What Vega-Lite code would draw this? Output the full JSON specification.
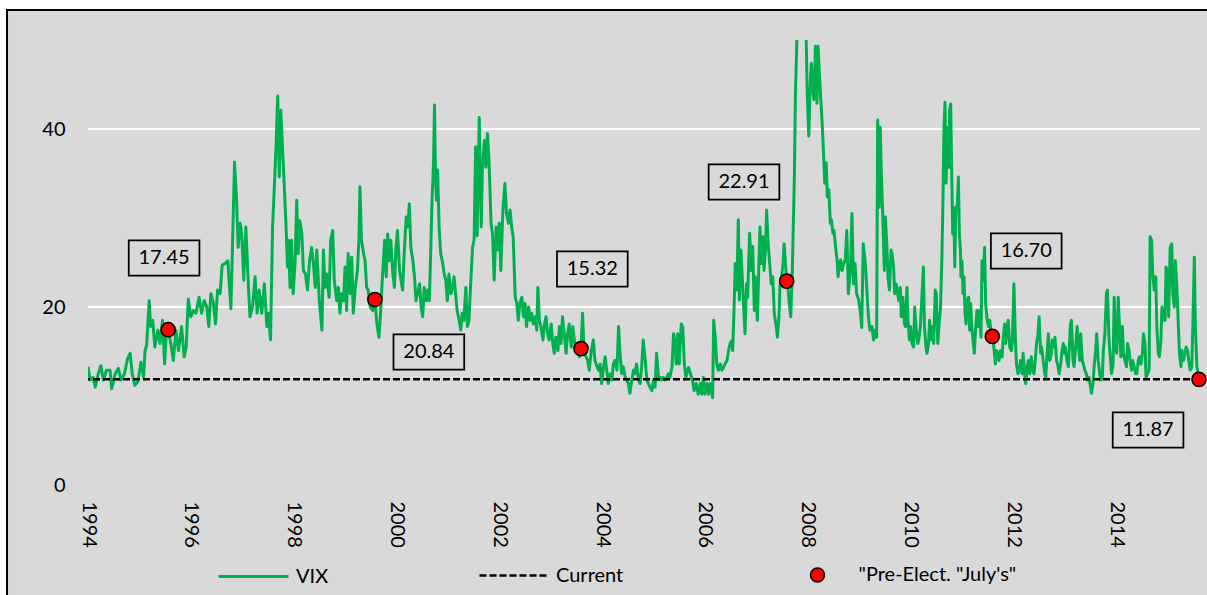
{
"$schema": "https://vega.github.io/schema/vega-lite/v6.json",
"width": 1112, "height": 445,
"autosize": {"type": "none"},
"padding": {"left": 88, "top": 40, "right": 7, "bottom": 110},
"background": "#d9d9d9",
"config": {"font": "Lato", "view": {"stroke": null},
 "legend": {"labelFont": "Lato", "labelFontSize": 20, "labelColor": "black", "title": null, "padding": 0}},
"datasets": {
"vix": [
{"t":1994.00,"v":13.3},{"t":1994.04,"v":11.8},{"t":1994.10,"v":12.1},{"t":1994.14,"v":11.0},{"t":1994.20,"v":12.5},{"t":1994.25,"v":13.4},{"t":1994.30,"v":11.8},{"t":1994.36,"v":12.9},{"t":1994.43,"v":12.9},{"t":1994.46,"v":10.8},{"t":1994.53,"v":12.5},{"t":1994.59,"v":13.1},{"t":1994.64,"v":11.8},{"t":1994.71,"v":12.5},{"t":1994.77,"v":14.2},{"t":1994.82,"v":14.8},{"t":1994.86,"v":12.5},{"t":1994.91,"v":11.2},{"t":1994.97,"v":11.6},{"t":1995.03,"v":13.8},{"t":1995.08,"v":12.1},{"t":1995.11,"v":15.1},{"t":1995.14,"v":15.7},{"t":1995.19,"v":20.7},{"t":1995.22,"v":17.8},{"t":1995.26,"v":18.5},{"t":1995.30,"v":15.5},{"t":1995.36,"v":17.4},{"t":1995.40,"v":15.9},{"t":1995.45,"v":18.5},{"t":1995.49,"v":13.6},{"t":1995.53,"v":17.8},{"t":1995.56,"v":17.45},{"t":1995.61,"v":15.9},{"t":1995.66,"v":14.0},{"t":1995.71,"v":17.4},{"t":1995.76,"v":15.1},{"t":1995.82,"v":17.8},{"t":1995.87,"v":14.4},{"t":1995.91,"v":15.5},{"t":1995.95,"v":20.9},{"t":1996.00,"v":18.9},{"t":1996.05,"v":19.6},{"t":1996.10,"v":19.3},{"t":1996.16,"v":21.1},{"t":1996.21,"v":19.3},{"t":1996.26,"v":20.7},{"t":1996.31,"v":20.0},{"t":1996.35,"v":17.8},{"t":1996.39,"v":21.5},{"t":1996.44,"v":20.4},{"t":1996.48,"v":18.1},{"t":1996.52,"v":21.9},{"t":1996.57,"v":21.5},{"t":1996.61,"v":24.7},{"t":1996.67,"v":24.9},{"t":1996.72,"v":25.2},{"t":1996.78,"v":19.8},{"t":1996.81,"v":26.7},{"t":1996.85,"v":36.3},{"t":1996.89,"v":32.0},{"t":1996.92,"v":26.7},{"t":1996.96,"v":29.4},{"t":1996.99,"v":28.2},{"t":1997.03,"v":23.0},{"t":1997.07,"v":29.0},{"t":1997.11,"v":23.7},{"t":1997.15,"v":18.9},{"t":1997.20,"v":20.0},{"t":1997.25,"v":23.4},{"t":1997.29,"v":19.3},{"t":1997.33,"v":21.9},{"t":1997.38,"v":19.3},{"t":1997.43,"v":22.6},{"t":1997.48,"v":17.8},{"t":1997.51,"v":19.3},{"t":1997.55,"v":16.3},{"t":1997.59,"v":29.0},{"t":1997.63,"v":34.2},{"t":1997.66,"v":38.4},{"t":1997.69,"v":43.7},{"t":1997.72,"v":34.6},{"t":1997.75,"v":42.1},
{"t":1997.81,"v":34.6},{"t":1997.85,"v":29.4},{"t":1997.88,"v":24.5},{"t":1997.90,"v":27.5},{"t":1997.93,"v":22.2},{"t":1997.96,"v":27.5},{"t":1997.99,"v":21.5},{"t":1998.03,"v":25.2},{"t":1998.06,"v":32.0},{"t":1998.09,"v":26.0},{"t":1998.12,"v":29.7},{"t":1998.16,"v":28.2},{"t":1998.19,"v":24.1},{"t":1998.23,"v":23.7},{"t":1998.27,"v":21.9},{"t":1998.31,"v":25.2},{"t":1998.35,"v":26.7},{"t":1998.38,"v":25.2},{"t":1998.42,"v":22.2},{"t":1998.45,"v":26.4},{"t":1998.50,"v":20.7},{"t":1998.55,"v":17.4},{"t":1998.58,"v":26.4},{"t":1998.61,"v":22.2},{"t":1998.64,"v":23.7},{"t":1998.69,"v":21.1},{"t":1998.72,"v":27.5},{"t":1998.76,"v":28.6},{"t":1998.79,"v":23.0},{"t":1998.84,"v":20.7},{"t":1998.87,"v":22.2},{"t":1998.90,"v":19.3},{"t":1998.93,"v":21.5},{"t":1998.97,"v":20.7},{"t":1999.00,"v":24.5},{"t":1999.03,"v":19.6},{"t":1999.06,"v":26.0},{"t":1999.10,"v":21.5},{"t":1999.13,"v":25.6},{"t":1999.16,"v":19.3},{"t":1999.20,"v":22.2},{"t":1999.24,"v":24.1},{"t":1999.27,"v":27.5},{"t":1999.29,"v":33.5},{"t":1999.32,"v":27.5},{"t":1999.36,"v":26.0},{"t":1999.39,"v":25.2},{"t":1999.42,"v":22.2},{"t":1999.45,"v":21.9},{"t":1999.49,"v":20.0},{"t":1999.54,"v":19.6},{"t":1999.58,"v":20.84},{"t":1999.62,"v":18.1},{"t":1999.66,"v":16.6},{"t":1999.69,"v":19.3},{"t":1999.73,"v":23.7},{"t":1999.77,"v":27.5},{"t":1999.80,"v":23.4},{"t":1999.83,"v":28.2},{"t":1999.86,"v":25.2},{"t":1999.89,"v":27.5},{"t":1999.93,"v":23.7},{"t":1999.96,"v":22.2},{"t":1999.99,"v":26.7},{"t":2000.02,"v":28.6},{"t":2000.06,"v":24.1},{"t":2000.09,"v":23.0},{"t":2000.12,"v":21.9},{"t":2000.15,"v":26.0},{"t":2000.19,"v":30.1},{"t":2000.22,"v":29.0},{"t":2000.25,"v":31.6},{"t":2000.28,"v":26.7},{"t":2000.32,"v":25.2},{"t":2000.35,"v":23.4},{"t":2000.38,"v":20.7},{"t":2000.41,"v":21.5},{"t":2000.45,"v":22.6},{"t":2000.48,"v":20.0},{"t":2000.51,"v":18.9},{"t":2000.54,"v":22.2},{"t":2000.58,"v":20.7},{"t":2000.61,"v":21.9},{"t":2000.64,"v":20.7},{"t":2000.67,"v":27.1},{"t":2000.69,"v":31.6},{"t":2000.72,"v":36.1},{"t":2000.74,"v":42.7},{"t":2000.76,"v":34.6},{"t":2000.78,"v":32.0},{"t":2000.80,"v":35.4},{"t":2000.83,"v":29.0},{"t":2000.86,"v":26.0},{"t":2000.89,"v":25.2},{"t":2000.93,"v":23.7},{"t":2000.96,"v":23.0},{"t":2000.99,"v":20.7},{"t":2001.02,"v":23.7},{"t":2001.06,"v":21.5},{"t":2001.09,"v":22.2},{"t":2001.12,"v":23.4},{"t":2001.15,"v":21.5},{"t":2001.18,"v":19.6},{"t":2001.22,"v":18.5},{"t":2001.25,"v":17.4},{"t":2001.28,"v":19.3},{"t":2001.31,"v":18.5},{"t":2001.35,"v":22.2},{"t":2001.38,"v":17.8},{"t":2001.41,"v":18.5},{"t":2001.44,"v":22.2},{"t":2001.48,"v":26.7},{"t":2001.51,"v":27.5},{"t":2001.54,"v":38.0},{"t":2001.57,"v":28.0},{"t":2001.61,"v":41.3},
{"t":2001.65,"v":29.0},{"t":2001.67,"v":35.4},{"t":2001.71,"v":38.7},{"t":2001.74,"v":35.7},{"t":2001.77,"v":39.5},{"t":2001.80,"v":36.5},{"t":2001.84,"v":29.4},{"t":2001.87,"v":28.2},{"t":2001.90,"v":23.0},{"t":2001.94,"v":29.0},{"t":2001.97,"v":26.4},{"t":2002.00,"v":29.4},{"t":2002.03,"v":24.1},{"t":2002.07,"v":30.9},{"t":2002.11,"v":33.9},{"t":2002.14,"v":30.5},{"t":2002.18,"v":29.4},{"t":2002.21,"v":30.9},{"t":2002.24,"v":29.0},{"t":2002.27,"v":27.9},{"t":2002.31,"v":21.1},{"t":2002.34,"v":20.4},{"t":2002.37,"v":18.5},{"t":2002.40,"v":20.4},{"t":2002.44,"v":21.1},{"t":2002.47,"v":18.9},{"t":2002.50,"v":20.4},{"t":2002.53,"v":17.8},{"t":2002.57,"v":20.0},{"t":2002.60,"v":18.5},{"t":2002.63,"v":19.3},{"t":2002.66,"v":18.1},{"t":2002.70,"v":18.9},{"t":2002.73,"v":17.4},{"t":2002.75,"v":22.2},{"t":2002.78,"v":18.5},{"t":2002.81,"v":17.8},{"t":2002.85,"v":16.3},{"t":2002.88,"v":18.1},{"t":2002.91,"v":18.9},{"t":2002.94,"v":17.0},{"t":2002.97,"v":16.3},{"t":2003.01,"v":18.1},{"t":2003.04,"v":15.9},{"t":2003.07,"v":14.8},{"t":2003.10,"v":16.6},{"t":2003.14,"v":15.1},{"t":2003.17,"v":17.8},{"t":2003.20,"v":15.9},{"t":2003.23,"v":18.9},{"t":2003.27,"v":16.6},{"t":2003.30,"v":14.8},{"t":2003.33,"v":17.0},{"t":2003.36,"v":18.1},{"t":2003.40,"v":15.5},{"t":2003.43,"v":17.8},{"t":2003.46,"v":16.3},{"t":2003.49,"v":15.1},{"t":2003.53,"v":15.5},{"t":2003.56,"v":14.4},{"t":2003.59,"v":15.32},{"t":2003.62,"v":19.3},{"t":2003.65,"v":14.8},{"t":2003.69,"v":14.4},{"t":2003.72,"v":14.0},{"t":2003.75,"v":12.9},{"t":2003.79,"v":15.1},{"t":2003.83,"v":16.3},{"t":2003.86,"v":14.0},{"t":2003.90,"v":13.3},{"t":2003.93,"v":12.9},{"t":2003.96,"v":13.6},{"t":2003.99,"v":11.4},{"t":2004.03,"v":13.3},{"t":2004.06,"v":14.4},{"t":2004.09,"v":12.9},{"t":2004.12,"v":11.4},{"t":2004.16,"v":12.5},{"t":2004.19,"v":11.8},{"t":2004.22,"v":13.6},{"t":2004.25,"v":14.0},{"t":2004.29,"v":12.9},{"t":2004.32,"v":17.8},{"t":2004.35,"v":14.8},{"t":2004.38,"v":12.5},{"t":2004.41,"v":13.3},{"t":2004.45,"v":12.1},{"t":2004.48,"v":11.8},{"t":2004.51,"v":11.4},{"t":2004.54,"v":10.3},{"t":2004.58,"v":11.8},{"t":2004.61,"v":12.9},{"t":2004.64,"v":12.5},{"t":2004.67,"v":13.6},{"t":2004.71,"v":11.8},{"t":2004.74,"v":11.4},{"t":2004.77,"v":13.3},{"t":2004.80,"v":16.3},{"t":2004.84,"v":14.0},{"t":2004.87,"v":11.8},{"t":2004.90,"v":11.4},{"t":2004.93,"v":11.0},{"t":2004.97,"v":10.6},{"t":2005.00,"v":11.8},{"t":2005.03,"v":11.0},{"t":2005.06,"v":14.8},{"t":2005.10,"v":11.8},{"t":2005.13,"v":12.1},{"t":2005.16,"v":11.8},{"t":2005.19,"v":12.1},{"t":2005.23,"v":11.8},{"t":2005.26,"v":12.1},{"t":2005.29,"v":12.5},{"t":2005.32,"v":12.1},{"t":2005.36,"v":13.3},{"t":2005.39,"v":17.0},{"t":2005.42,"v":15.9},
{"t":2005.44,"v":13.6},{"t":2005.47,"v":17.0},{"t":2005.50,"v":13.6},{"t":2005.54,"v":18.1},{"t":2005.57,"v":17.7},{"t":2005.60,"v":13.6},{"t":2005.63,"v":12.1},{"t":2005.68,"v":13.2},{"t":2005.72,"v":12.5},{"t":2005.76,"v":11.7},{"t":2005.79,"v":10.6},{"t":2005.83,"v":11.4},{"t":2005.87,"v":10.2},{"t":2005.91,"v":11.4},{"t":2005.94,"v":10.2},{"t":2005.97,"v":12.1},{"t":2006.00,"v":10.2},{"t":2006.04,"v":11.4},{"t":2006.07,"v":10.2},{"t":2006.10,"v":11.4},{"t":2006.15,"v":9.8},{"t":2006.17,"v":18.5},{"t":2006.20,"v":16.6},{"t":2006.23,"v":13.6},{"t":2006.26,"v":12.9},{"t":2006.30,"v":13.6},{"t":2006.33,"v":12.9},{"t":2006.36,"v":13.2},{"t":2006.39,"v":13.6},{"t":2006.43,"v":14.0},{"t":2006.46,"v":15.1},{"t":2006.49,"v":15.9},{"t":2006.52,"v":16.2},{"t":2006.54,"v":15.1},{"t":2006.57,"v":20.4},{"t":2006.59,"v":24.9},{"t":2006.62,"v":21.9},{"t":2006.65,"v":29.8},{"t":2006.67,"v":20.8},{"t":2006.70,"v":26.4},{"t":2006.72,"v":24.1},{"t":2006.75,"v":20.4},{"t":2006.78,"v":17.0},{"t":2006.81,"v":22.6},{"t":2006.83,"v":21.1},{"t":2006.87,"v":28.3},{"t":2006.90,"v":24.1},{"t":2006.93,"v":26.8},{"t":2006.96,"v":19.6},{"t":2006.98,"v":23.4},{"t":2007.02,"v":18.5},{"t":2007.05,"v":24.9},{"t":2007.07,"v":29.0},{"t":2007.10,"v":24.9},{"t":2007.13,"v":27.9},{"t":2007.15,"v":24.1},{"t":2007.18,"v":26.8},{"t":2007.20,"v":30.9},{"t":2007.23,"v":27.1},{"t":2007.26,"v":24.9},{"t":2007.29,"v":22.6},{"t":2007.32,"v":23.4},{"t":2007.35,"v":19.2},{"t":2007.39,"v":17.7},{"t":2007.41,"v":16.6},{"t":2007.44,"v":18.9},{"t":2007.46,"v":22.3},{"t":2007.49,"v":23.4},{"t":2007.52,"v":24.9},{"t":2007.54,"v":27.1},{"t":2007.59,"v":22.91},{"t":2007.61,"v":22.6},{"t":2007.64,"v":20.4},{"t":2007.67,"v":18.9},{"t":2007.70,"v":24.1},{"t":2007.74,"v":34.7},{"t":2007.76,"v":43.7},{"t":2007.79,"v":50.5},{"t":2007.82,"v":62},{"t":2007.85,"v":75},{"t":2007.88,"v":80},{"t":2007.92,"v":68},{"t":2007.94,"v":58},{"t":2007.97,"v":50.1},{"t":2007.99,"v":44.1},{"t":2008.02,"v":39.2},{"t":2008.05,"v":45.2},{"t":2008.07,"v":47.4},{"t":2008.10,"v":44.4},{"t":2008.12,"v":43.3},{"t":2008.15,"v":49.3},{"t":2008.18,"v":42.9},{"t":2008.20,"v":49.3},{"t":2008.23,"v":45.9},{"t":2008.25,"v":43.7},{"t":2008.28,"v":40.7},{"t":2008.31,"v":36.9},{"t":2008.33,"v":33.9},{"t":2008.36,"v":36.2},{"t":2008.38,"v":32.4},{"t":2008.41,"v":33.2},{"t":2008.44,"v":29.4},{"t":2008.46,"v":29.8},{"t":2008.49,"v":28.3},{"t":2008.51,"v":28.6},{"t":2008.54,"v":26.8},{"t":2008.57,"v":25.3},{"t":2008.59,"v":23.4},{"t":2008.62,"v":24.9},{"t":2008.64,"v":25.3},{"t":2008.67,"v":24.1},{"t":2008.70,"v":24.9},{"t":2008.73,"v":25.3},{"t":2008.76,"v":28.6},{"t":2008.79,"v":21.5},{"t":2008.83,"v":24.1},{"t":2008.86,"v":30.5},{"t":2008.89,"v":22.6},{"t":2008.92,"v":24.9},{"t":2008.95,"v":21.5},{"t":2008.99,"v":20.8},{"t":2009.02,"v":19.6},{"t":2009.05,"v":17.7},{"t":2009.08,"v":27.1},{"t":2009.12,"v":24.9},{"t":2009.15,"v":21.9},{"t":2009.18,"v":18.9},{"t":2009.21,"v":17.4},
{"t":2009.25,"v":17.8},{"t":2009.28,"v":16.3},{"t":2009.31,"v":17.4},{"t":2009.34,"v":16.6},{"t":2009.36,"v":41.0},{"t":2009.39,"v":31.2},{"t":2009.41,"v":40.2},{"t":2009.43,"v":35.4},{"t":2009.46,"v":30.1},{"t":2009.49,"v":24.1},{"t":2009.51,"v":30.1},{"t":2009.54,"v":26.7},{"t":2009.56,"v":23.4},{"t":2009.59,"v":21.9},{"t":2009.62,"v":26.4},{"t":2009.64,"v":26.0},{"t":2009.67,"v":24.5},{"t":2009.69,"v":21.5},{"t":2009.72,"v":22.6},{"t":2009.75,"v":21.5},{"t":2009.77,"v":20.7},{"t":2009.80,"v":22.2},{"t":2009.82,"v":18.9},{"t":2009.85,"v":21.1},{"t":2009.88,"v":18.1},{"t":2009.90,"v":17.8},{"t":2009.93,"v":22.2},{"t":2009.95,"v":18.5},{"t":2009.98,"v":16.3},{"t":2010.00,"v":17.8},{"t":2010.03,"v":15.9},{"t":2010.06,"v":15.5},{"t":2010.08,"v":20.0},{"t":2010.11,"v":17.4},{"t":2010.14,"v":15.9},{"t":2010.16,"v":16.3},{"t":2010.19,"v":17.8},{"t":2010.22,"v":21.1},{"t":2010.25,"v":24.5},{"t":2010.27,"v":17.8},{"t":2010.30,"v":15.5},{"t":2010.32,"v":14.8},{"t":2010.35,"v":15.9},{"t":2010.37,"v":18.5},{"t":2010.40,"v":16.3},{"t":2010.43,"v":17.8},{"t":2010.45,"v":15.9},{"t":2010.48,"v":21.9},{"t":2010.50,"v":21.5},{"t":2010.53,"v":15.9},{"t":2010.56,"v":18.5},{"t":2010.58,"v":19.6},{"t":2010.61,"v":25.6},{"t":2010.63,"v":32.0},{"t":2010.65,"v":40.2},{"t":2010.67,"v":43.0},{"t":2010.69,"v":33.9},{"t":2010.71,"v":37.2},{"t":2010.73,"v":40.2},{"t":2010.75,"v":35.7},{"t":2010.76,"v":42.1},{"t":2010.78,"v":42.8},{"t":2010.80,"v":35.4},{"t":2010.82,"v":28.2},{"t":2010.84,"v":31.2},{"t":2010.86,"v":24.5},{"t":2010.88,"v":30.9},{"t":2010.91,"v":31.6},{"t":2010.93,"v":34.6},{"t":2010.95,"v":28.2},{"t":2010.97,"v":26.4},{"t":2010.98,"v":23.4},{"t":2011.00,"v":25.2},{"t":2011.02,"v":21.5},{"t":2011.04,"v":23.4},{"t":2011.06,"v":19.3},{"t":2011.08,"v":18.1},{"t":2011.10,"v":20.7},{"t":2011.13,"v":21.1},{"t":2011.15,"v":17.4},{"t":2011.17,"v":20.4},{"t":2011.19,"v":17.8},{"t":2011.22,"v":15.9},{"t":2011.24,"v":14.8},{"t":2011.26,"v":17.0},{"t":2011.29,"v":19.6},{"t":2011.32,"v":17.8},{"t":2011.34,"v":19.6},{"t":2011.37,"v":16.6},{"t":2011.39,"v":25.2},{"t":2011.41,"v":23.0},{"t":2011.44,"v":26.7},{"t":2011.46,"v":20.4},{"t":2011.49,"v":18.5},{"t":2011.52,"v":17.8},{"t":2011.54,"v":18.5},{"t":2011.57,"v":17.0},{"t":2011.59,"v":16.7},{"t":2011.62,"v":15.5},{"t":2011.65,"v":13.6},{"t":2011.67,"v":15.1},{"t":2011.70,"v":14.8},{"t":2011.72,"v":14.0},{"t":2011.75,"v":15.1},{"t":2011.78,"v":14.4},{"t":2011.80,"v":16.3},{"t":2011.83,"v":18.1},{"t":2011.85,"v":15.9},{"t":2011.88,"v":17.8},{"t":2011.90,"v":18.5},{"t":2011.93,"v":15.5},{"t":2011.96,"v":15.1},{"t":2011.98,"v":15.9},{"t":2012.01,"v":22.6},{"t":2012.04,"v":16.3},{"t":2012.06,"v":13.6},{"t":2012.09,"v":12.5},{"t":2012.11,"v":12.9},{"t":2012.14,"v":14.0},{"t":2012.17,"v":12.5},{"t":2012.19,"v":14.8},{"t":2012.22,"v":12.5},{"t":2012.24,"v":11.4},{"t":2012.27,"v":13.3},{"t":2012.29,"v":14.0},{"t":2012.32,"v":12.5},{"t":2012.35,"v":14.4},{"t":2012.37,"v":12.9},{"t":2012.40,"v":12.5},{"t":2012.42,"v":13.6},{"t":2012.45,"v":15.9},{"t":2012.48,"v":17.0},{"t":2012.50,"v":18.9},{"t":2012.53,"v":14.8},{"t":2012.55,"v":15.5},{"t":2012.58,"v":14.0},{"t":2012.61,"v":12.5},{"t":2012.63,"v":12.1},{"t":2012.66,"v":15.1},{"t":2012.68,"v":17.0},{"t":2012.71,"v":14.0},{"t":2012.74,"v":14.8},{"t":2012.76,"v":16.3},{"t":2012.79,"v":15.5},{"t":2012.81,"v":16.6},{"t":2012.84,"v":14.0},{"t":2012.87,"v":13.3},{"t":2012.89,"v":12.5},{"t":2012.92,"v":13.6},{"t":2012.94,"v":14.8},{"t":2012.97,"v":15.9},{"t":2012.99,"v":14.8},
{"t":2013.01,"v":15.5},{"t":2013.04,"v":14.0},{"t":2013.07,"v":13.3},{"t":2013.11,"v":18.1},{"t":2013.13,"v":18.5},{"t":2013.16,"v":14.0},{"t":2013.18,"v":13.3},{"t":2013.21,"v":15.5},{"t":2013.24,"v":17.8},{"t":2013.26,"v":15.9},{"t":2013.29,"v":14.0},{"t":2013.31,"v":17.0},{"t":2013.34,"v":14.0},{"t":2013.36,"v":13.6},{"t":2013.39,"v":12.9},{"t":2013.42,"v":12.5},{"t":2013.44,"v":11.8},{"t":2013.47,"v":12.1},{"t":2013.49,"v":11.4},{"t":2013.52,"v":10.3},{"t":2013.55,"v":11.4},{"t":2013.57,"v":13.3},{"t":2013.60,"v":15.1},{"t":2013.62,"v":17.0},{"t":2013.65,"v":14.0},{"t":2013.68,"v":12.5},{"t":2013.70,"v":11.8},{"t":2013.73,"v":12.1},{"t":2013.75,"v":15.1},{"t":2013.78,"v":17.0},{"t":2013.81,"v":21.5},{"t":2013.83,"v":21.9},{"t":2013.86,"v":16.3},{"t":2013.88,"v":14.8},{"t":2013.91,"v":12.5},{"t":2013.94,"v":13.6},{"t":2013.96,"v":21.1},{"t":2013.99,"v":15.5},{"t":2014.01,"v":14.8},{"t":2014.04,"v":21.1},{"t":2014.07,"v":17.0},{"t":2014.09,"v":14.4},{"t":2014.12,"v":17.8},{"t":2014.14,"v":14.8},{"t":2014.17,"v":14.0},{"t":2014.20,"v":13.3},{"t":2014.22,"v":15.9},{"t":2014.25,"v":15.1},{"t":2014.27,"v":14.0},{"t":2014.30,"v":12.9},{"t":2014.32,"v":14.0},{"t":2014.35,"v":13.3},{"t":2014.38,"v":12.5},{"t":2014.40,"v":12.5},{"t":2014.43,"v":14.0},{"t":2014.45,"v":14.4},{"t":2014.48,"v":13.6},{"t":2014.51,"v":14.8},{"t":2014.53,"v":17.0},{"t":2014.56,"v":15.9},{"t":2014.58,"v":12.1},{"t":2014.61,"v":12.5},{"t":2014.64,"v":12.9},{"t":2014.66,"v":27.9},{"t":2014.69,"v":27.5},{"t":2014.71,"v":23.7},{"t":2014.74,"v":21.9},{"t":2014.77,"v":23.4},{"t":2014.79,"v":17.8},{"t":2014.82,"v":14.8},{"t":2014.84,"v":14.4},{"t":2014.87,"v":16.3},{"t":2014.89,"v":20.0},{"t":2014.92,"v":18.5},{"t":2014.95,"v":18.5},{"t":2014.97,"v":24.5},{"t":2015.00,"v":23.7},{"t":2015.02,"v":18.9},{"t":2015.05,"v":26.7},{"t":2015.08,"v":27.1},{"t":2015.10,"v":21.5},{"t":2015.13,"v":20.0},{"t":2015.15,"v":25.2},{"t":2015.18,"v":22.2},{"t":2015.21,"v":17.8},{"t":2015.23,"v":14.8},{"t":2015.26,"v":13.3},{"t":2015.28,"v":15.1},{"t":2015.31,"v":14.0},{"t":2015.34,"v":14.8},{"t":2015.36,"v":15.5},{"t":2015.39,"v":15.1},{"t":2015.41,"v":14.0},{"t":2015.44,"v":12.9},{"t":2015.47,"v":13.3},{"t":2015.49,"v":17.8},{"t":2015.52,"v":25.6},{"t":2015.54,"v":17.8},{"t":2015.57,"v":13.3},{"t":2015.61,"v":11.87}
],
"dots": [
{"t":1995.56,"v":17.45,"lab":"17.45","lx":1995.48,"ly":25.5},
{"t":1999.58,"v":20.84,"lab":"20.84","lx":2000.63,"ly":14.94},
{"t":2003.59,"v":15.32,"lab":"15.32","lx":2003.81,"ly":24.27},
{"t":2007.59,"v":22.91,"lab":"22.91","lx":2006.76,"ly":34.04},
{"t":2011.59,"v":16.70,"lab":"16.70","lx":2012.25,"ly":26.29},
{"t":2015.61,"v":11.87,"lab":"11.87","lx":2014.62,"ly":6.18}
],
"current": [{"v":11.87}],
"grid": [{"g":20},{"g":40}],
"margin": [{"a":1990,"b":1992.405,"c":60,"d":-40},{"a":1990,"b":2030,"c":60,"d":53.48}],
"border": [{"a":1992.405,"b":1992.444,"c":53.48,"d":-40},{"a":1992.405,"b":2030,"c":53.48,"d":53.26}]
},
"encoding": {
 "x": {"field": "t", "type": "quantitative",
  "scale": {"domain": [1994, 2015.63], "nice": false, "zero": false},
  "axis": {"values": [1994,1996,1998,2000,2002,2004,2006,2008,2010,2012,2014], "format": "d", "labelAngle": 90, "labelFontSize": 20, "labelFont": "Lato", "labelColor": "black", "labelPadding": 16, "ticks": false, "domain": false, "grid": false, "title": null, "labelFlush": false, "labelOverlap": false, "zindex": 1}},
 "y": {"field": "v", "type": "quantitative",
  "scale": {"domain": [0, 50], "nice": false},
  "axis": {"values": [0,20,40], "labelFontSize": 20, "labelFont": "Lato", "labelColor": "black", "labelPadding": 23, "ticks": false, "domain": false, "grid": false, "title": null, "zindex": 1}}
},
"layer": [
 {"data": {"name": "margin"}, "mark": {"type": "rect", "fill": "white", "clip": false},
  "encoding": {"x": {"field": "a", "type": "quantitative"}, "x2": {"field": "b"}, "y": {"field": "c", "type": "quantitative"}, "y2": {"field": "d"}}},
 {"data": {"name": "border"}, "mark": {"type": "rect", "fill": "black", "clip": false},
  "encoding": {"x": {"field": "a", "type": "quantitative"}, "x2": {"field": "b"}, "y": {"field": "c", "type": "quantitative"}, "y2": {"field": "d"}}},
 {"data": {"name": "grid"}, "mark": {"type": "rule", "color": "white", "strokeWidth": 2},
  "encoding": {"y": {"field": "g", "type": "quantitative"}, "x": null}},
 {"data": {"name": "vix"}, "mark": {"type": "line", "strokeWidth": 3, "clip": true, "strokeJoin": "round"},
  "encoding": {"color": {"datum": "VIX", "scale": {"range": ["#00b050"]},
   "legend": {"orient": "none", "legendX": 129, "legendY": 500, "symbolType": "stroke", "symbolSize": 4900, "symbolStrokeWidth": 3, "labelOffset": 6}}}},
 {"data": {"name": "current"}, "mark": {"type": "rule", "color": "black", "strokeWidth": 2.5},
  "encoding": {"x": null, "strokeDash": {"datum": "Current", "scale": {"range": [[7, 3]]},
   "legend": {"orient": "none", "legendX": 390, "legendY": 500, "symbolType": "stroke", "symbolSize": 4624, "symbolStrokeWidth": 2.5, "symbolStrokeColor": "black", "labelOffset": 7}}}},
 {"data": {"name": "dots"}, "mark": {"type": "point", "filled": true, "size": 200, "stroke": "black", "strokeWidth": 1.5, "opacity": 1},
  "encoding": {"fill": {"datum": "\"Pre-Elect. \"July's\"", "scale": {"range": ["#ff0000"]},
   "legend": {"orient": "none", "legendX": 719.5, "legendY": 525, "symbolType": "circle", "symbolSize": 196, "symbolStrokeColor": "black", "symbolStrokeWidth": 1.5, "symbolOpacity": 1, "labelOffset": 31}}}},
 {"data": {"name": "dots"}, "mark": {"type": "point", "shape": "M-1,-0.5H1V0.5H-1Z", "size": 5000, "filled": true, "fill": "#d9d9d9", "stroke": "black", "strokeWidth": 1.75, "opacity": 1},
  "encoding": {"x": {"field": "lx", "type": "quantitative"}, "y": {"field": "ly", "type": "quantitative"}}},
 {"data": {"name": "dots"}, "mark": {"type": "text", "fontSize": 20, "font": "Lato", "color": "black", "align": "center", "baseline": "middle"},
  "encoding": {"x": {"field": "lx", "type": "quantitative"}, "y": {"field": "ly", "type": "quantitative"}, "text": {"field": "lab"}}}
]
}
